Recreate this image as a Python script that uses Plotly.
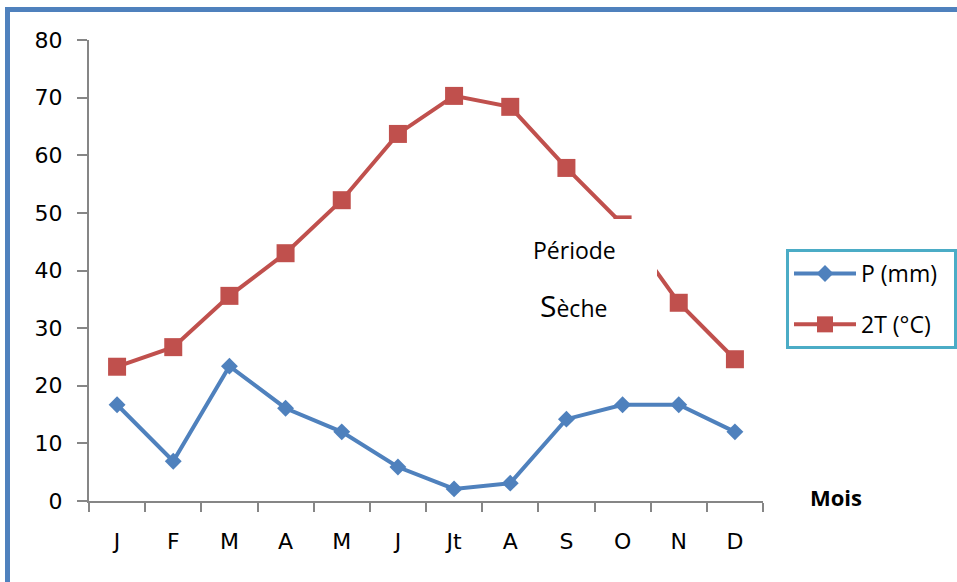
import plotly.graph_objects as go

# Monthly climate data: precipitation (mm) and twice the mean temperature (°C)
months = ["J", "F", "M", "A", "M ", "J ", "Jt", "A ", "S", "O", "N", "D"]
month_labels = ["J", "F", "M", "A", "M", "J", "Jt", "A", "S", "O", "N", "D"]
precip_mm = [16.7, 6.9, 23.4, 16.1, 12.0, 5.9, 2.1, 3.1, 14.2, 16.7, 16.7, 12.0]
two_temp_c = [23.3, 26.7, 35.6, 43.0, 52.2, 63.7, 70.3, 68.4, 57.8, 48.0, 34.4, 24.6]
y_ticks = [0, 10, 20, 30, 40, 50, 60, 70, 80]

BLUE = "#4F81BD"
RED = "#C0504D"
AXIS = "#868686"
FONT = "DejaVu Sans"
TEXT_FONT = "Open Sans"
PAD = "\u00a0\u00a0"  # keeps some room at the right of the legend text

# Plot area geometry (pixels) used to place paper-referenced decorations
W, H = 957, 582
L, R, T, B = 89, 194, 40, 81
PW, PH = W - L - R, H - T - B


def px(x):
    return (x - L) / PW


def py(y):
    return 1 - (y - T) / PH


fig = go.Figure()
fig.add_trace(go.Scatter(
    x=months, y=precip_mm, name="P (mm)" + PAD, mode="lines+markers",
    line=dict(color=BLUE, width=4),
    marker=dict(symbol="diamond", size=13, color=BLUE),
    legendgroup="p", cliponaxis=False,
))
fig.add_trace(go.Scatter(
    x=months, y=two_temp_c, name="2T (°C)" + PAD, mode="lines+markers",
    line=dict(color=RED, width=4),
    marker=dict(symbol="square", size=18, color=RED),
    legendgroup="t", cliponaxis=False,
))

shapes = [
    # white text box hiding the temperature curve behind the label
    dict(type="rect", xref="paper", yref="paper",
         x0=px(505), x1=px(657), y0=py(330), y1=py(219),
         fillcolor="white", line=dict(width=0), layer="above"),
    # frame edges along the top and left
    dict(type="line", xref="paper", yref="paper",
         x0=px(5), x1=px(960), y0=py(9.5), y1=py(9.5),
         line=dict(color=BLUE, width=5)),
    dict(type="line", xref="paper", yref="paper",
         x0=px(7.5), x1=px(7.5), y0=py(7), y1=py(590),
         line=dict(color=BLUE, width=5)),
]

annotations = [
    dict(text="Période", xref="paper", yref="paper", x=px(574), y=py(250),
         xanchor="center", yanchor="middle", showarrow=False,
         font=dict(family=TEXT_FONT, size=23, color="black")),
    dict(text="<span style='font-size:30px'>S</span>èche", xref="paper", yref="paper",
         x=px(573), y=py(305), xanchor="center", yanchor="middle", showarrow=False,
         font=dict(family=TEXT_FONT, size=23, color="black")),
    dict(text="<b>Mois</b>", xref="paper", yref="paper", x=px(836), y=py(497),
         xanchor="center", yanchor="middle", showarrow=False,
         font=dict(family=TEXT_FONT, size=22, color="black")),
]

tick_font = dict(family=FONT, size=22, color="black")

fig.update_layout(
    width=W, height=H,
    margin=dict(l=L, r=R, t=T, b=B, autoexpand=False),
    paper_bgcolor="white", plot_bgcolor="white",
    font=dict(family=FONT, size=20, color="black"),
    shapes=shapes, annotations=annotations,
    showlegend=True,
    legend=dict(
        x=px(786), y=py(249), xanchor="left", yanchor="top",
        bordercolor="#4BACC6", borderwidth=3, bgcolor="white",
        font=dict(family=TEXT_FONT, size=23), itemwidth=62,
        traceorder="grouped", tracegroupgap=18,
    ),
    xaxis=dict(
        type="category", categoryorder="array", categoryarray=months,
        tickvals=months, ticktext=month_labels, tickfont=tick_font,
        range=[-0.5, len(months) - 0.5], tickson="boundaries",
        ticks="outside", ticklen=9, tickwidth=2, tickcolor=AXIS,
        showline=True, linecolor=AXIS, linewidth=2, showgrid=False,
        ticklabelstandoff=20,
    ),
    yaxis=dict(
        range=[0, 80], tickvals=y_ticks, tickfont=tick_font,
        ticks="outside", ticklen=10,
        tickwidth=2, tickcolor=AXIS, showline=True, linecolor=AXIS,
        linewidth=2, showgrid=False, zeroline=False, ticklabelstandoff=10,
    ),
)

fig.write_html("out.html")
